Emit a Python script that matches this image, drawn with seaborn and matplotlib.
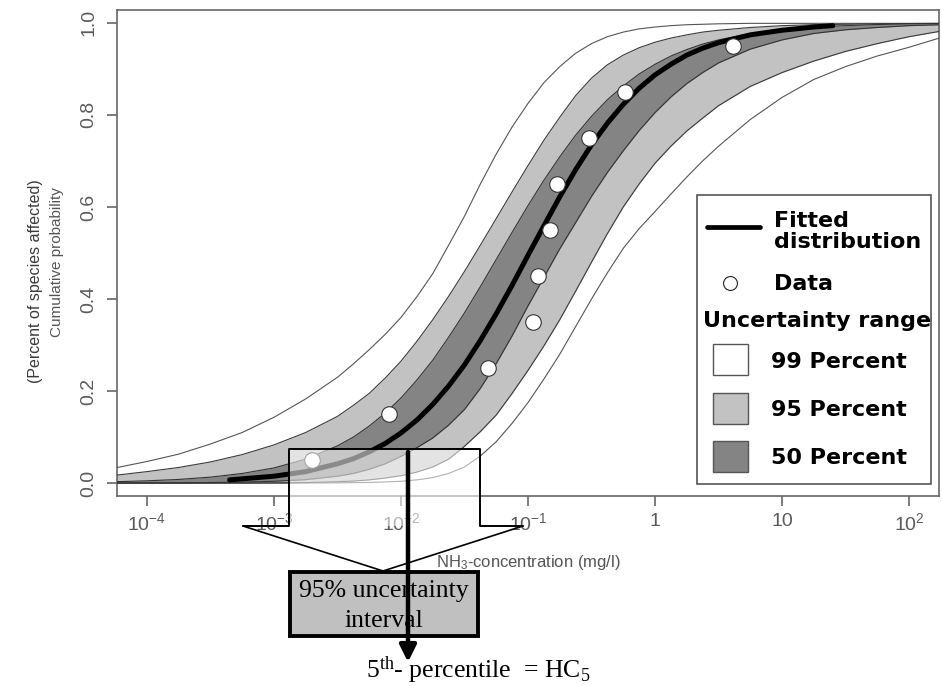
import numpy as np
import seaborn as sns
import matplotlib.pyplot as plt
from matplotlib.patches import Rectangle, FancyArrowPatch
from matplotlib.lines import Line2D

# species sensitivity distribution, NH3
data_conc = [0.0020, 0.0081, 0.048, 0.11, 0.12, 0.15, 0.17, 0.30, 0.58, 4.1]
data_prob = [0.05, 0.15, 0.25, 0.35, 0.45, 0.55, 0.65, 0.75, 0.85, 0.95]

fit_log_conc = [-3.35, -3.0, -2.75, -2.5, -2.375, -2.25, -2.125, -2.0,
                -1.875, -1.75, -1.625, -1.5, -1.375, -1.25, -1.125, -1.0,
                -0.875, -0.75, -0.625, -0.5, -0.375, -0.25, -0.125, 0.0,
                0.125, 0.25, 0.375, 0.5, 0.75, 1.0, 1.25, 1.4]
fit_prob = [0.007, 0.015, 0.025, 0.042, 0.053, 0.068, 0.086, 0.109,
            0.137, 0.171, 0.211, 0.257, 0.310, 0.368, 0.430, 0.495,
            0.559, 0.622, 0.681, 0.735, 0.782, 0.823, 0.858, 0.887,
            0.910, 0.930, 0.945, 0.957, 0.974, 0.984, 0.991, 0.994]

# uncertainty band edges on a log10 concentration grid
log_conc = [-4.25, -4.0, -3.75, -3.5, -3.25, -3.0, -2.75, -2.5,
            -2.375, -2.25, -2.125, -2.0, -1.875, -1.75, -1.625, -1.5,
            -1.375, -1.25, -1.125, -1.0, -0.875, -0.75, -0.625, -0.5,
            -0.375, -0.25, -0.125, 0.0, 0.125, 0.25, 0.375, 0.5,
            0.75, 1.0, 1.25, 1.5, 1.75, 2.0, 2.25]
p99_upper = [0.033, 0.047, 0.063, 0.085, 0.110, 0.143, 0.183, 0.230,
             0.259, 0.290, 0.323, 0.360, 0.405, 0.455, 0.517, 0.580,
             0.650, 0.715, 0.774, 0.825, 0.870, 0.905, 0.934, 0.955,
             0.970, 0.980, 0.987, 0.991, 0.994, 0.996, 0.997, 0.998,
             0.999, 0.999, 0.999, 0.999, 0.999, 0.999, 0.999]
p95_upper = [0.017, 0.025, 0.034, 0.046, 0.062, 0.083, 0.110, 0.145,
             0.169, 0.195, 0.228, 0.265, 0.308, 0.355, 0.406, 0.460,
             0.517, 0.575, 0.633, 0.690, 0.745, 0.795, 0.842, 0.880,
             0.909, 0.930, 0.946, 0.958, 0.967, 0.974, 0.980, 0.984,
             0.990, 0.994, 0.996, 0.997, 0.998, 0.9985, 0.999]
p50_upper = [0.003, 0.005, 0.008, 0.013, 0.021, 0.033, 0.052, 0.081,
             0.100, 0.124, 0.152, 0.185, 0.224, 0.267, 0.317, 0.370,
             0.427, 0.486, 0.545, 0.603, 0.658, 0.709, 0.756, 0.797,
             0.833, 0.863, 0.889, 0.910, 0.928, 0.942, 0.954, 0.963,
             0.977, 0.986, 0.991, 0.994, 0.9965, 0.998, 0.9986]
p50_lower = [0.0003, 0.0005, 0.0008, 0.0013, 0.0022, 0.004, 0.0075, 0.015,
             0.021, 0.030, 0.042, 0.058, 0.077, 0.098, 0.126, 0.160,
             0.206, 0.260, 0.320, 0.385, 0.447, 0.509, 0.566, 0.623,
             0.675, 0.722, 0.766, 0.805, 0.839, 0.868, 0.892, 0.913,
             0.943, 0.963, 0.977, 0.985, 0.990, 0.994, 0.996]
p95_lower = [0.0, 0.0, 0.0, 0.0001, 0.0002, 0.0005, 0.0012, 0.003,
             0.0045, 0.007, 0.011, 0.016, 0.024, 0.035, 0.052, 0.080,
             0.112, 0.148, 0.195, 0.245, 0.298, 0.355, 0.417, 0.480,
             0.542, 0.600, 0.650, 0.695, 0.732, 0.765, 0.793, 0.820,
             0.862, 0.892, 0.917, 0.938, 0.955, 0.970, 0.982]
p99_lower = [0.0, 0.0, 0.0, 0.0, 0.0, 0.0, 0.0002, 0.0006,
             0.001, 0.0015, 0.0025, 0.004, 0.007, 0.012, 0.021, 0.035,
             0.059, 0.090, 0.130, 0.175, 0.226, 0.280, 0.340, 0.400,
             0.457, 0.510, 0.553, 0.590, 0.628, 0.665, 0.700, 0.732,
             0.790, 0.838, 0.877, 0.905, 0.928, 0.947, 0.968]

xtick_vals = [1e-4, 1e-3, 1e-2, 1e-1, 1, 10, 100]
xtick_labels = [r'$\mathregular{10^{-4}}$', r'$\mathregular{10^{-3}}$', r'$\mathregular{10^{-2}}$',
                r'$\mathregular{10^{-1}}$', '1', '10', r'$\mathregular{10^{2}}$']
ytick_vals = [0.0, 0.2, 0.4, 0.6, 0.8, 1.0]

sns.set_style("white")
plt.rcParams['font.family'] = ['Liberation Sans', 'DejaVu Sans']

W, H = 942, 686
fig = plt.figure(figsize=(W / 100, H / 100), dpi=100)


def fx(px):
    return px / W


def fy(py):
    return 1 - py / H


ax = fig.add_axes([fx(117), fy(496), (939 - 117) / W, (496 - 10) / H])
ax.set_xscale('log')

x = 10.0 ** np.array(log_conc)
ax.fill_between(x, p99_lower, p99_upper, color='white', lw=0, zorder=1)
ax.fill_between(x, p95_lower, p95_upper, color='#c2c2c2', lw=0, zorder=2)
ax.fill_between(x, p50_lower, p50_upper, color='#848484', lw=0, zorder=3)
for edge, col in [(p99_upper, '#555555'), (p99_lower, '#555555'),
                  (p95_upper, '#3a3a3a'), (p95_lower, '#3a3a3a'),
                  (p50_upper, '#333333'), (p50_lower, '#333333')]:
    sns.lineplot(x=x, y=edge, color=col, lw=0.8, estimator=None, sort=False,
                 ax=ax, zorder=4)

sns.lineplot(x=10.0 ** np.array(fit_log_conc), y=fit_prob, color='black', lw=3.6,
             estimator=None, sort=False, ax=ax, zorder=5)
sns.scatterplot(x=data_conc, y=data_prob, s=125, color='white', edgecolor='#333333',
                linewidth=0.8, ax=ax, zorder=6)

ax.set_xlim(10 ** -4.236, 10 ** 2.236)
ax.set_ylim(-0.028, 1.028)
ax.minorticks_off()
ax.set_xticks(xtick_vals)
ax.set_xticklabels(xtick_labels)
ax.set_yticks(ytick_vals)
ax.set_yticklabels([f'{v:.1f}' for v in ytick_vals], rotation=90, va='center')
ax.tick_params(bottom=True, left=True, direction='out', length=7, width=1.2,
               color='#666666', labelcolor='#5a5a5a', labelsize=14)
ax.tick_params(axis='x', pad=5)
ax.tick_params(axis='y', pad=7)
for sp in ax.spines.values():
    sp.set_color('#666666')
    sp.set_linewidth(1.2)
ax.set_xlabel('')
ax.set_ylabel('')

fig.text(fx(57), fy(262), 'Cumulative probability', rotation=90, ha='center',
         va='center', size=11, color='#555555')
fig.text(fx(36), fy(281), '(Percent of species affected)', rotation=90, ha='center',
         va='center', size=11.5, color='#3a3a3a')
fig.text(fx(528), fy(563), r'$\mathregular{NH_3}$-concentration (mg/l)', ha='center',
         va='center', size=12, color='#555555')

# legend drawn by hand
fig.patches.append(Rectangle((fx(697), fy(484)), (931 - 697) / W, (484 - 195) / H,
                             transform=fig.transFigure, facecolor='white',
                             edgecolor='#555555', lw=1.2, zorder=10))
fig.lines.append(Line2D([fx(707), fx(760)], [fy(227), fy(227)], color='black', lw=3.4,
                        transform=fig.transFigure, zorder=11))
fig.lines.append(Line2D([fx(730)], [fy(283)], marker='o', ms=10, mfc='white',
                        mec='#222222', mew=0.8, transform=fig.transFigure, zorder=11))
leg_font = dict(family='DejaVu Sans', weight='bold', size=16, color='black',
                va='baseline', zorder=11)
fig.text(fx(774), fy(227), 'Fitted', ha='left', **leg_font)
fig.text(fx(774), fy(248), 'distribution', ha='left', **leg_font)
fig.text(fx(774), fy(290), 'Data', ha='left', **leg_font)
fig.text(fx(703), fy(327), 'Uncertainty range', ha='left', **leg_font)
for top, fc, lab, base in [(344, 'white', '99 Percent', 368),
                           (393, '#c2c2c2', '95 Percent', 416),
                           (441, '#848484', '50 Percent', 464)]:
    fig.patches.append(Rectangle((fx(713), fy(top + 31)), 35 / W, 31 / H,
                                 transform=fig.transFigure, facecolor=fc,
                                 edgecolor='#555555', lw=1.0, zorder=11))
    fig.text(fx(771), fy(base), lab, ha='left', **leg_font)

# HC5 callout
fig.patches.append(Rectangle((fx(289), fy(526)), (480 - 289) / W, (526 - 449) / H,
                             transform=fig.transFigure, facecolor='white', alpha=0.55,
                             edgecolor='none', zorder=12))
fig.lines.append(Line2D([fx(243), fx(289), fx(289), fx(480), fx(480), fx(523)],
                        [fy(526), fy(526), fy(449), fy(449), fy(526), fy(526)],
                        color='black', lw=1.4, transform=fig.transFigure, zorder=13))
fig.lines.append(Line2D([fx(243), fx(383), fx(523)], [fy(526), fy(571), fy(526)],
                        color='black', lw=1.2, transform=fig.transFigure, zorder=13))
fig.patches.append(Rectangle((fx(290), fy(636)), (478 - 290) / W, (636 - 572) / H,
                             transform=fig.transFigure, facecolor='#c0c0c0',
                             edgecolor='black', lw=2.8, zorder=13))
serif = dict(family='Liberation Serif', size=18.5, color='black', ha='center',
             va='center', zorder=14)
fig.text(fx(384), fy(591), '95% uncertainty', **serif)
fig.text(fx(384), fy(621), 'interval', **serif)
fig.patches.append(FancyArrowPatch((fx(408), fy(452)), (fx(408), fy(662)),
                                   transform=fig.transFigure,
                                   arrowstyle='-|>,head_length=0.5,head_width=0.25',
                                   mutation_scale=20, lw=3.2, color='black',
                                   shrinkA=0, shrinkB=0, zorder=15))
fig.text(fx(478), fy(678), r'$\mathregular{5^{th}}$- percentile  = $\mathregular{HC_5}$',
         family='Liberation Serif', size=18.5, color='black', ha='center',
         va='baseline', zorder=14)

fig.savefig('out.png', dpi=100)
